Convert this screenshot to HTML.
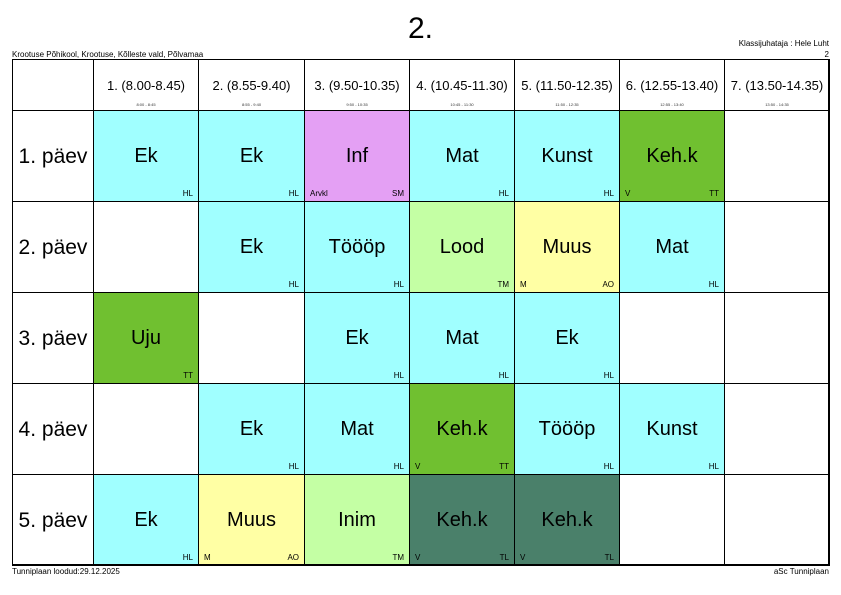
<!DOCTYPE html><html><head><style>
body{margin:0;width:841px;height:595px;background:#fff;font-family:"Liberation Sans",sans-serif;position:relative;overflow:hidden}
.a{position:absolute}
.c{position:absolute;box-sizing:border-box;border:1px solid #000}
.s{position:absolute;width:100%;text-align:center;font-size:20px;top:34px}
.t{position:absolute;bottom:3px;right:5px;font-size:8px}
.l{position:absolute;bottom:3px;left:5px;font-size:8px}
.h{position:absolute;width:100%;text-align:center;font-size:13px;top:18px}
.hs{position:absolute;width:100%;text-align:center;font-size:4px;top:42px;color:#333}
.d{position:absolute;width:100%;text-align:center;font-size:21px;top:34px}
</style></head><body>
<div class="a" style="left:0;width:841px;top:12px;text-align:center;font-size:30px">2.</div>
<div class="a" style="left:12px;top:50px;font-size:8px">Krootuse Põhikool, Krootuse, Kõlleste vald, Põlvamaa</div>
<div class="a" style="right:12px;top:38px;font-size:8px;text-align:right;line-height:11px">Klassijuhataja : Hele Luht<br>2</div>
<div class="a" style="left:12px;top:567px;font-size:8px">Tunniplaan loodud:29.12.2025</div>
<div class="a" style="right:12px;top:567px;font-size:8px">aSc Tunniplaan</div>
<div id="g"></div>
<script>
var X=[12,93,198,304,409,514,619,724,829],Y=[59,110,201,292,383,474,565];
var H=["1. (8.00-8.45)","2. (8.55-9.40)","3. (9.50-10.35)","4. (10.45-11.30)","5. (11.50-12.35)","6. (12.55-13.40)","7. (13.50-14.35)"];
var HS=["8:00 - 8:45","8:55 - 9:40","9:50 - 10:35","10:45 - 11:30","11:50 - 12:35","12:55 - 13:40","13:50 - 14:35"];
var C={c:"#a0ffff",p:"#e4a0f4",g:"#70c030",lg:"#c4ffa4",y:"#ffffa4",dg:"#4a806a"};
var D=[
[["Ek","c","HL"],["Ek","c","HL"],["Inf","p","SM","Arvkl"],["Mat","c","HL"],["Kunst","c","HL"],["Keh.k","g","TT","V"],null],
[null,["Ek","c","HL"],["Töööp","c","HL"],["Lood","lg","TM"],["Muus","y","AO","M"],["Mat","c","HL"],null],
[["Uju","g","TT"],null,["Ek","c","HL"],["Mat","c","HL"],["Ek","c","HL"],null,null],
[null,["Ek","c","HL"],["Mat","c","HL"],["Keh.k","g","TT","V"],["Töööp","c","HL"],["Kunst","c","HL"],null],
[["Ek","c","HL"],["Muus","y","AO","M"],["Inim","lg","TM"],["Keh.k","dg","TL","V"],["Keh.k","dg","TL","V"],null,null]];
var o="";
function cell(x0,x1,y0,y1,bg,inner){o+='<div class="c" style="left:'+x0+'px;top:'+y0+'px;width:'+(x1-x0+1)+'px;height:'+(y1-y0+1)+'px;background:'+bg+'">'+inner+'</div>';}
cell(X[0],X[1],Y[0],Y[1],"#fff","");
for(var i=0;i<7;i++)cell(X[i+1],X[i+2],Y[0],Y[1],"#fff",'<div class="h">'+H[i]+'</div><div class="hs">'+HS[i]+'</div>');
for(var r=0;r<5;r++){cell(X[0],X[1],Y[r+1],Y[r+2],"#fff",'<div class="d">'+(r+1)+'. päev</div>');
for(var i=0;i<7;i++){var e=D[r][i];if(!e){cell(X[i+1],X[i+2],Y[r+1],Y[r+2],"#fff","");continue;}
cell(X[i+1],X[i+2],Y[r+1],Y[r+2],C[e[1]],'<div class="s">'+e[0]+'</div><div class="t">'+e[2]+'</div>'+(e[3]?'<div class="l">'+e[3]+'</div>':''));}}
document.getElementById("g").innerHTML=o;
</script>
<div class="a" style="left:12px;top:59px;width:817px;height:506px;border:1px solid #000;box-sizing:border-box"></div>
</body></html>
